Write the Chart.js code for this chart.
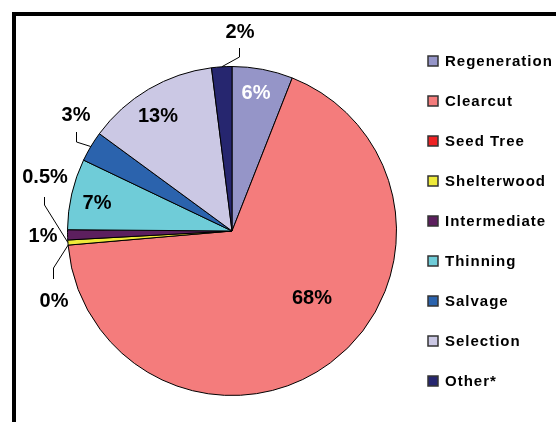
<!DOCTYPE html>
<html>
<head>
<meta charset="utf-8">
<script src="https://cdn.jsdelivr.net/npm/chart.js@4.4.0/dist/chart.umd.min.js"></script>
<style>
  html, body { margin: 0; padding: 0; background: #fff; }
  #wrap { width: 556px; height: 422px; position: relative; }
</style>
</head>
<body>
<div id="wrap"><canvas id="pie" width="556" height="422"></canvas></div>
<script>
// harvest types and their share of the total (%)
const categories = ['Regeneration', 'Clearcut', 'Seed Tree', 'Shelterwood', 'Intermediate', 'Thinning', 'Salvage', 'Selection', 'Other*'];
const shares = [6, 68, 0, 0.5, 1, 7, 3, 13, 2];
const shareLabels = ['6%', '68%', '0%', '0.5%', '1%', '7%', '3%', '13%', '2%'];
const colors = ['#9595C8', '#F47C7C', '#EE2224', '#EEEA3A', '#5C1F5E', '#6FCCD8', '#2B63AD', '#CBC8E4', '#26266F'];

// where each percent label sits, relative to the pie centre; lead = elbow of the leader line
const labelPlaces = [
  { dx: 24, dy: -139, color: '#fff' },
  { dx: 80, dy: 66 },
  { dx: -178, dy: 69, lead: [[-179, 48], [-179, 37]], edge: 'start' },
  { dx: -187, dy: -55, lead: [[-188, -34], [-188, -26]] },
  { dx: -189, dy: 4 },
  { dx: -135, dy: -29 },
  { dx: -156, dy: -117, lead: [[-156, -99], [-156, -89]] },
  { dx: -74, dy: -116 },
  { dx: 8, dy: -200, lead: [[7, -183], [7, -174]] }
];

const piePlugin = {
  id: 'piePlugin',
  beforeDraw(chart) {
    const ctx = chart.ctx;
    ctx.save();
    ctx.fillStyle = '#fff';
    ctx.fillRect(0, 0, chart.width, chart.height);
    // frame (only top and left show inside the crop)
    ctx.strokeStyle = '#000';
    ctx.lineWidth = 4;
    ctx.strokeRect(14, 14, 700, 600);
    ctx.restore();
  },
  afterDatasetsDraw(chart) {
    const ctx = chart.ctx;
    const arcs = chart.getDatasetMeta(0).data;
    const cx = arcs[0].x, cy = arcs[0].y;
    ctx.save();

    // leader lines
    ctx.strokeStyle = '#000';
    ctx.lineWidth = 1;
    labelPlaces.forEach((p, i) => {
      if (!p.lead) return;
      const a = arcs[i];
      const ang = p.edge === 'start' ? a.startAngle : (a.startAngle + a.endAngle) / 2;
      const ex = a.x + Math.cos(ang) * a.outerRadius;
      const ey = a.y + Math.sin(ang) * a.outerRadius;
      ctx.beginPath();
      ctx.moveTo(cx + p.lead[0][0] + 0.5, cy + p.lead[0][1]);
      ctx.lineTo(cx + p.lead[1][0] + 0.5, cy + p.lead[1][1]);
      ctx.lineTo(ex, ey);
      ctx.stroke();
    });

    // percent labels
    ctx.font = 'bold 20px "Liberation Sans", Arial, sans-serif';
    ctx.textAlign = 'center';
    ctx.textBaseline = 'middle';
    labelPlaces.forEach((p, i) => {
      ctx.fillStyle = p.color || '#000';
      ctx.fillText(shareLabels[i], cx + p.dx, cy + p.dy + 1);
    });

    // legend
    ctx.font = 'bold 15px "Liberation Sans", Arial, sans-serif';
    ctx.letterSpacing = '1px';
    ctx.textAlign = 'left';
    categories.forEach((c, i) => {
      const y = 61 + i * 40;
      ctx.fillStyle = colors[i];
      ctx.fillRect(428, y - 5, 10, 10);
      ctx.strokeStyle = '#333';
      ctx.lineWidth = 1.5;
      ctx.strokeRect(428, y - 5, 10, 10);
      ctx.fillStyle = '#000';
      ctx.fillText(c, 445, y + 1);
    });
    ctx.restore();
  }
};

new Chart(document.getElementById('pie'), {
  type: 'pie',
  data: {
    labels: categories,
    datasets: [{
      data: shares,
      backgroundColor: colors,
      borderColor: '#000',
      borderWidth: 1,
      hoverOffset: 0
    }]
  },
  options: {
    responsive: false,
    animation: false,
    events: [],
    layout: { padding: { left: 67, right: 159, top: 66, bottom: 26 } },
    plugins: {
      legend: { display: false },
      tooltip: { enabled: false },
      title: { display: false }
    }
  },
  plugins: [piePlugin]
});
</script>
</body>
</html>
